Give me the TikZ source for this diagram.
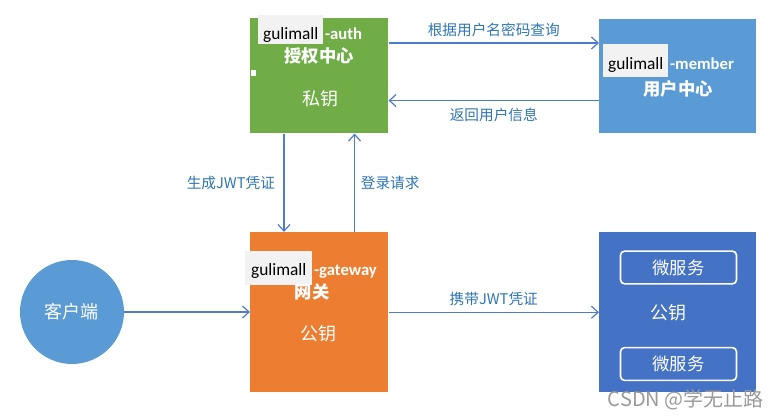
\documentclass[tikz,border=0pt]{standalone}
\usepackage{fontspec}
\setmainfont{Carlito}
\newfontfamily\cjk{Noto Sans CJK SC}
\usetikzlibrary{arrows.meta,calc}

\definecolor{authgreen}{HTML}{70AD47}
\definecolor{memberblue}{HTML}{5B9BD5}
\definecolor{gateorange}{HTML}{ED7D31}
\definecolor{svcblue}{HTML}{4472C4}
\definecolor{linkblue}{HTML}{4F7BCF}
\definecolor{textblue}{HTML}{2E75B6}
\definecolor{tagbg}{HTML}{F2F2F2}

\tikzset{
  box/.style={draw=none, inner sep=0pt, anchor=north west},
  tag/.style={fill=tagbg, anchor=south west, inner xsep=0pt, inner ysep=0pt, align=center, font=\fontsize{13}{14}\selectfont, text=black},
  suffix/.style={anchor=base west, inner sep=1pt, text=white, font=\fontsize{12.5}{14}\selectfont\bfseries},
  title/.style={text=white, font=\cjk\fontsize{13}{15}\selectfont\bfseries},
  keytext/.style={text=white, font=\cjk\fontsize{13.5}{15}\selectfont},
  lbl/.style={text=textblue, font=\cjk\fontsize{11}{13}\selectfont},
  link/.style={draw=linkblue, line width=0.9pt, -{Straight Barb[length=5pt,width=9pt]}},
  svcbox/.style={draw=white, line width=1.2pt, rounded corners=3pt, fill=svcblue, minimum width=87pt, minimum height=24.5pt, text=white, font=\cjk\fontsize{13}{15}\selectfont}
}

\begin{document}
\begin{tikzpicture}[x=0.75pt,y=-0.75pt]
\useasboundingbox (0,0) rectangle (779,416);
%boxes
\node[box, fill=authgreen, minimum width=103.5pt, minimum height=86.25pt] (auth) at (250,18) {};
\node[box, fill=memberblue, minimum width=117.75pt, minimum height=85.5pt] (member) at (599,19) {};
\node[box, fill=gateorange, minimum width=103.5pt, minimum height=120pt] (gate) at (250,232) {};
\node[box, fill=svcblue, minimum width=117.75pt, minimum height=120pt] (svc) at (599,232) {};
\node[circle, fill=memberblue, minimum size=78pt, inner sep=0pt, text=white, font=\cjk\fontsize{13.5}{15}\selectfont] (client) at (72,312) {客户端};

%auth center
\node[tag, minimum width=48.75pt, text height=18.75pt, text depth=3pt] (tagA) at (258,44) {gulimall};
\node[suffix] (sufA) at (tagA.base east) {-auth};
\node[title] (titleA) at (319,56) {授权中心};
\node[keytext] (keyA) at (320,99) {私钥};
\fill[white] (251,70) rectangle (256,76);

%member center
\node[tag, minimum width=48.75pt, text height=19.5pt, text depth=5.25pt] (tagM) at (603,77) {gulimall};
\node[suffix] (sufM) at (tagM.base east) {-member};
\node[title] (titleM) at (678,89) {用户中心};

%gateway
\node[tag, minimum width=50.25pt, text height=18.75pt, text depth=6.75pt] (tagG) at (245,285) {gulimall};
\node[suffix] (sufG) at (tagG.base east) {-gateway};
\node[title] (titleG) at (312,292) {网关};
\node[keytext] (keyG) at (318,334) {公钥};

%services
\node[svcbox] (svc1) at (678.5,267.5) {微服务};
\node[keytext] (keyS) at (668,313) {公钥};
\node[svcbox] (svc2) at (678.5,364) {微服务};

%connectors
\draw[link] ($(auth.north east)+(0,25)$) -- node[lbl, above=1pt] (l1) {根据用户名密码查询} ($(member.north west)+(0,24)$);
\draw[link] ($(member.south west)+(0,-33)$) -- node[lbl, below=2pt] (l2) {返回用户信息} ($(auth.south east)+(0,-33)$);
\draw[link] ($(auth.south west)+(34,0)$) -- node[lbl, left=3pt] (l3) {生成JWT凭证} ($(gate.north west)+(34,0)$);
\draw[link] ($(gate.north east)+(-34,0)$) -- node[lbl, right=1pt] (l4) {登录请求} ($(auth.south east)+(-34,0)$);
\draw[link] (client.east) -- (client.east -| gate.west);
\draw[link] (gate.east) -- node[lbl, above=1pt] (l5) {携带JWT凭证} (svc.west);

%watermark
\node[text=black!40, font=\cjk\fontsize{15}{17}\selectfont, anchor=east, inner sep=0pt] (mark) at (764,400) {CSDN @学无止路};
\end{tikzpicture}
\end{document}
